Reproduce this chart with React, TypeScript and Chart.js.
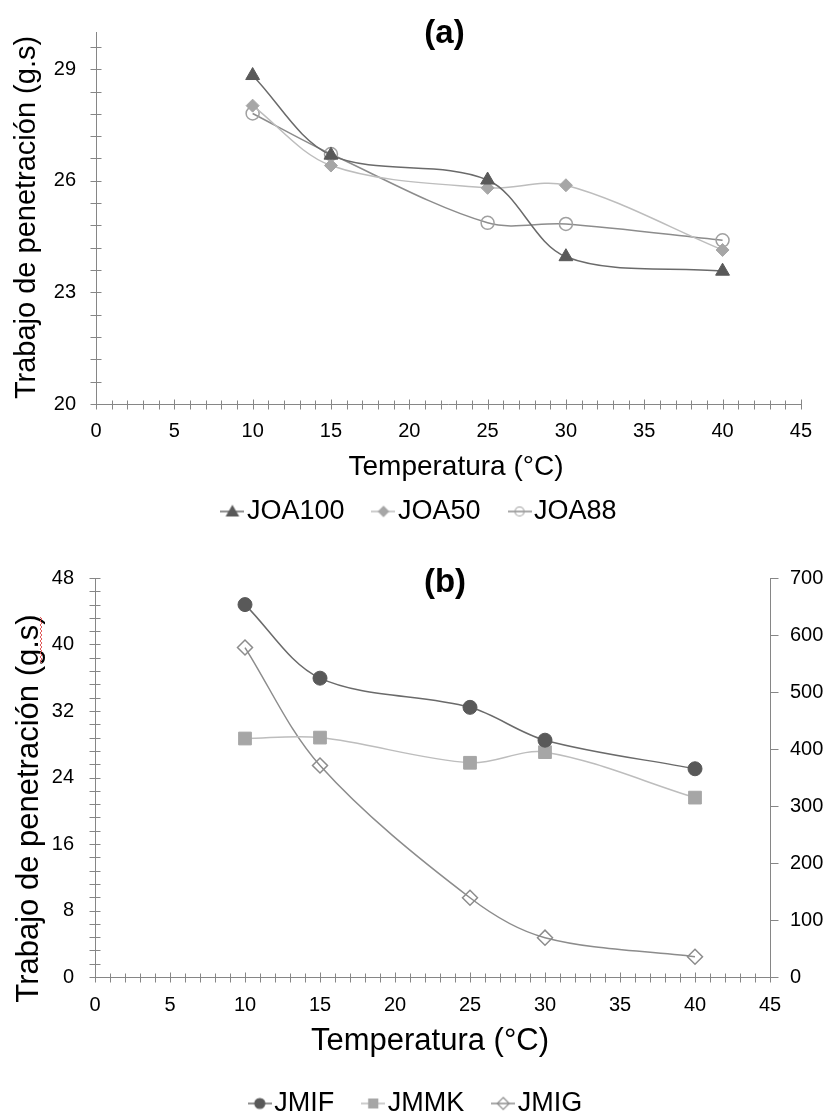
import React, { useEffect, useRef } from 'react';
import { Chart, registerables } from 'chart.js';

Chart.register(...registerables);

const FONT = '"Liberation Sans", Arial, Helvetica, sans-serif';
Chart.defaults.font.family = FONT;
Chart.defaults.color = '#000';

// ---------- data ----------
const temperatures = [10, 15, 25, 30, 40];

const joa100 = [28.83, 26.69, 26.02, 23.96, 23.57];
const joa50 = [28.02, 26.41, 25.81, 25.88, 24.14];
const joa88 = [27.81, 26.72, 24.87, 24.84, 24.4];

const jmif = [44.8, 35.95, 32.44, 28.49, 25.05];
const jmmk = [28.69, 28.8, 25.77, 27.05, 21.58];
const jmig = [578, 371, 139, 69, 35.5];

const xTicks = [0, 5, 10, 15, 20, 25, 30, 35, 40, 45];
const yTicksA = [20, 23, 26, 29];
const yTicksBLeft = [0, 8, 16, 24, 32, 40, 48];
const yTicksBRight = [0, 100, 200, 300, 400, 500, 600, 700];

const AXIS = '#868686';

const toPoints = (ys: number[]) => temperatures.map((t, i) => ({ x: t, y: ys[i] }));

// ---------- legend icons (line + marker) ----------
function makeIcon(shape: string, stroke: string, fill: string | null, lineColor: string, r: number) {
  const c = document.createElement('canvas');
  c.width = 24;
  c.height = 18;
  const g = c.getContext('2d') as CanvasRenderingContext2D;
  g.strokeStyle = lineColor;
  g.lineWidth = 1.5;
  g.beginPath();
  g.moveTo(0, 9);
  g.lineTo(24, 9);
  g.stroke();
  const cx = 12;
  const cy = 9;
  g.beginPath();
  if (shape === 'triangle') {
    g.moveTo(cx, cy - r);
    g.lineTo(cx + r * 1.05, cy + r * 0.8);
    g.lineTo(cx - r * 1.05, cy + r * 0.8);
    g.closePath();
  } else if (shape === 'diamond') {
    g.moveTo(cx, cy - r);
    g.lineTo(cx + r, cy);
    g.lineTo(cx, cy + r);
    g.lineTo(cx - r, cy);
    g.closePath();
  } else if (shape === 'circle') {
    g.arc(cx, cy, r, 0, Math.PI * 2);
  } else {
    g.rect(cx - r, cy - r, 2 * r, 2 * r);
  }
  if (fill) {
    g.fillStyle = fill;
    g.fill();
  }
  g.strokeStyle = stroke;
  g.lineWidth = 1.2;
  g.stroke();
  return c;
}

// ---------- plugins ----------
const axisTicks = {
  id: 'axisTicks',
  afterDraw(chart: any, _args: any, opts: any) {
    const ctx = chart.ctx;
    const area = chart.chartArea;
    ctx.save();
    ctx.strokeStyle = AXIS;
    ctx.lineWidth = 1;
    const axes = opts.axes || [];
    for (let k = 0; k < axes.length; k++) {
      const a = axes[k];
      const sc = chart.scales[a.id];
      if (!sc) continue;
      const n = Math.floor((sc.max - sc.min) / a.step + 1e-6);
      ctx.beginPath();
      for (let i = 0; i <= n; i++) {
        const v = sc.min + i * a.step;
        if (sc.isHorizontal()) {
          const px = Math.round(sc.getPixelForValue(v)) + 0.5;
          const y0 = Math.round(area.bottom) + 0.5;
          const major = Math.abs(v / a.major - Math.round(v / a.major)) < 1e-6;
          ctx.moveTo(px, y0 - (major ? a.inner + 1 : a.inner));
          ctx.lineTo(px, y0 + a.outer);
        } else {
          const py = Math.round(sc.getPixelForValue(v)) + 0.5;
          if (sc.position === 'right') {
            const x0 = Math.round(area.right) + 0.5;
            ctx.moveTo(x0 - a.inner, py);
            ctx.lineTo(x0 + a.outer, py);
          } else {
            const x0 = Math.round(area.left) + 0.5;
            ctx.moveTo(x0 - a.outer, py);
            ctx.lineTo(x0 + a.inner, py);
          }
        }
      }
      ctx.stroke();
    }
    ctx.restore();
  },
};

const panelText = {
  id: 'panelText',
  afterDraw(chart: any, _args: any, opts: any) {
    const ctx = chart.ctx;
    const items = opts.items || [];
    for (let k = 0; k < items.length; k++) {
      const t = items[k];
      ctx.save();
      ctx.font = `${t.bold ? 'bold ' : ''}${t.size}px ${FONT}`;
      ctx.fillStyle = '#000';
      ctx.textAlign = 'center';
      ctx.textBaseline = 'alphabetic';
      ctx.translate(t.x, t.y);
      if (t.rotate) ctx.rotate(-Math.PI / 2);
      ctx.fillText(t.text, 0, 0);
      ctx.restore();
    }
    const sq = opts.squiggle;
    if (sq) {
      ctx.save();
      ctx.strokeStyle = '#e05a5a';
      ctx.lineWidth = 1;
      ctx.beginPath();
      let flip = false;
      ctx.moveTo(sq.x, sq.y0);
      for (let y = sq.y0 + 2; y <= sq.y1; y += 2) {
        flip = !flip;
        ctx.lineTo(sq.x + (flip ? 2 : 0), y);
      }
      ctx.stroke();
      ctx.restore();
    }
  },
};

const setTicks = (values: number[]) => (scale: any) => {
  scale.ticks = values.map((v) => ({ value: v }));
};

const tickFont = { size: 20, family: FONT };

function legendOptions(icons: HTMLCanvasElement[]) {
  return {
    display: true,
    position: 'bottom',
    labels: {
      usePointStyle: true,
      pointStyleWidth: 2,
      padding: 38,
      color: '#000',
      font: { size: 27, family: FONT },
      generateLabels: (chart: any) => {
        const items = Chart.defaults.plugins.legend.labels.generateLabels(chart);
        items.forEach((it: any, i: number) => {
          it.pointStyle = icons[i];
          it.fontColor = '#000';
        });
        return items;
      },
    },
  };
}

function configA(): any {
  const icons = [
    makeIcon('triangle', '#595959', '#595959', '#6a6a6a', 5.5),
    makeIcon('diamond', '#a6a6a6', '#a6a6a6', '#bdbdbd', 5),
    makeIcon('circle', '#a0a0a0', null, '#8c8c8c', 4.5),
  ];
  return {
    type: 'line',
    data: {
      datasets: [
        {
          label: 'JOA100',
          data: toPoints(joa100),
          borderColor: '#6a6a6a',
          borderWidth: 1.5,
          pointStyle: 'triangle',
          pointRadius: 8,
          pointBackgroundColor: '#595959',
          pointBorderColor: '#595959',
          pointBorderWidth: 1,
          tension: 0.33,
          fill: false,
        },
        {
          label: 'JOA50',
          data: toPoints(joa50),
          borderColor: '#bdbdbd',
          borderWidth: 1.5,
          pointStyle: 'rectRot',
          pointRadius: 6.5,
          pointBackgroundColor: '#a6a6a6',
          pointBorderColor: '#a6a6a6',
          pointBorderWidth: 1,
          tension: 0.33,
          fill: false,
        },
        {
          label: 'JOA88',
          data: toPoints(joa88),
          borderColor: '#8c8c8c',
          borderWidth: 1.5,
          pointStyle: 'circle',
          pointRadius: 6.5,
          pointBackgroundColor: 'rgba(0,0,0,0)',
          pointBorderColor: '#a0a0a0',
          pointBorderWidth: 1.5,
          tension: 0.33,
          fill: false,
        },
      ],
    },
    options: {
      responsive: false,
      animation: false,
      events: [],
      layout: { padding: { left: 37, right: 16, top: 20, bottom: 10 } },
      scales: {
        x: {
          type: 'linear',
          min: 0,
          max: 45,
          afterBuildTicks: setTicks(xTicks),
          afterFit: (s: any) => {
            s.height = 56;
          },
          grid: { display: false, drawTicks: false },
          border: { display: true, color: AXIS, width: 1 },
          ticks: { padding: 15, font: tickFont, color: '#000', maxRotation: 0, autoSkip: false },
        },
        y: {
          type: 'linear',
          min: 20,
          max: 30,
          afterBuildTicks: setTicks(yTicksA),
          afterFit: (s: any) => {
            s.width = 59;
          },
          grid: { display: false, drawTicks: false },
          border: { display: true, color: AXIS, width: 1 },
          ticks: { padding: 20, font: tickFont, color: '#000', autoSkip: false },
        },
      },
      plugins: {
        legend: legendOptions(icons),
        tooltip: { enabled: false },
        axisTicks: {
          axes: [
            { id: 'x', step: 1, major: 5, inner: 4, outer: 5 },
            { id: 'y', step: 0.6, inner: 5, outer: 6 },
          ],
        },
        panelText: {
          items: [
            { text: '(a)', x: 444.5, y: 43, size: 33, bold: true },
            { text: 'Trabajo de penetración (g.s)', x: 35, y: 217.5, size: 29, rotate: true },
            { text: 'Temperatura (°C)', x: 456, y: 475, size: 28 },
          ],
        },
      },
    },
    plugins: [axisTicks, panelText],
  };
}

function configB(): any {
  const icons = [
    makeIcon('circle', '#595959', '#595959', '#6a6a6a', 5),
    makeIcon('square', '#a6a6a6', '#a6a6a6', '#bdbdbd', 4.5),
    makeIcon('diamond', '#8c8c8c', null, '#8c8c8c', 6),
  ];
  return {
    type: 'line',
    data: {
      datasets: [
        {
          label: 'JMIF',
          data: toPoints(jmif),
          yAxisID: 'y',
          borderColor: '#6a6a6a',
          borderWidth: 1.5,
          pointStyle: 'circle',
          pointRadius: 7,
          pointBackgroundColor: '#595959',
          pointBorderColor: '#595959',
          pointBorderWidth: 1,
          tension: 0.33,
          fill: false,
        },
        {
          label: 'JMMK',
          data: toPoints(jmmk),
          yAxisID: 'y',
          borderColor: '#bdbdbd',
          borderWidth: 1.5,
          pointStyle: 'rect',
          pointRadius: 9,
          pointBackgroundColor: '#a6a6a6',
          pointBorderColor: '#a6a6a6',
          pointBorderWidth: 1,
          tension: 0.33,
          fill: false,
        },
        {
          label: 'JMIG',
          data: toPoints(jmig),
          yAxisID: 'y1',
          borderColor: '#8c8c8c',
          borderWidth: 1.5,
          pointStyle: 'rectRot',
          pointRadius: 7.5,
          pointBackgroundColor: 'rgba(0,0,0,0)',
          pointBorderColor: '#8c8c8c',
          pointBorderWidth: 1.5,
          tension: 0.33,
          fill: false,
        },
      ],
    },
    options: {
      responsive: false,
      animation: false,
      events: [],
      layout: { padding: { left: 14, right: 0, top: 31, bottom: 0 } },
      scales: {
        x: {
          type: 'linear',
          min: 0,
          max: 45,
          afterBuildTicks: setTicks(xTicks),
          afterFit: (s: any) => {
            s.height = 75;
          },
          grid: { display: false, drawTicks: false },
          border: { display: true, color: AXIS, width: 1 },
          ticks: { padding: 16, font: tickFont, color: '#000', maxRotation: 0, autoSkip: false },
        },
        y: {
          type: 'linear',
          position: 'left',
          min: 0,
          max: 48,
          afterBuildTicks: setTicks(yTicksBLeft),
          afterFit: (s: any) => {
            s.width = 81;
          },
          grid: { display: false, drawTicks: false },
          border: { display: true, color: AXIS, width: 1 },
          ticks: { padding: 21, font: tickFont, color: '#000', autoSkip: false },
        },
        y1: {
          type: 'linear',
          position: 'right',
          min: 0,
          max: 700,
          afterBuildTicks: setTicks(yTicksBRight),
          afterFit: (s: any) => {
            s.width = 57;
          },
          grid: { display: false, drawTicks: false },
          border: { display: true, color: AXIS, width: 1 },
          ticks: { padding: 20, font: tickFont, color: '#000', autoSkip: false },
        },
      },
      plugins: {
        legend: legendOptions(icons),
        tooltip: { enabled: false },
        axisTicks: {
          axes: [
            { id: 'x', step: 1, major: 5, inner: 4, outer: 5 },
            { id: 'y', step: 1.6, inner: 5, outer: 6 },
            { id: 'y1', step: 100, inner: 0, outer: 8 },
          ],
        },
        panelText: {
          items: [
            { text: '(b)', x: 445, y: 47, size: 33, bold: true },
            { text: 'Trabajo de penetración (g.s)', x: 38, y: 263.5, size: 31, rotate: true },
            { text: 'Temperatura (°C)', x: 430, y: 505, size: 31 },
          ],
          squiggle: { x: 40, y0: 72, y1: 118 },
        },
      },
    },
    plugins: [axisTicks, panelText],
  };
}

function ChartCanvas({ make, width, height, top }: { make: () => any; width: number; height: number; top: number }) {
  const ref = useRef<HTMLCanvasElement | null>(null);
  useEffect(() => {
    if (!ref.current) return;
    const chart = new Chart(ref.current, make());
    return () => chart.destroy();
  }, [make]);
  return (
    <div style={{ position: 'absolute', left: 0, top, width, height }}>
      <canvas ref={ref} width={width} height={height} style={{ display: 'block', width, height }} />
    </div>
  );
}

export default function App() {
  return (
    <div
      style={{
        position: 'absolute',
        left: 0,
        top: 0,
        width: 827,
        height: 1115,
        overflow: 'hidden',
        background: '#fff',
      }}
    >
      <ChartCanvas make={configA} width={827} height={545} top={0} />
      <ChartCanvas make={configB} width={827} height={582} top={545} />
    </div>
  );
}
